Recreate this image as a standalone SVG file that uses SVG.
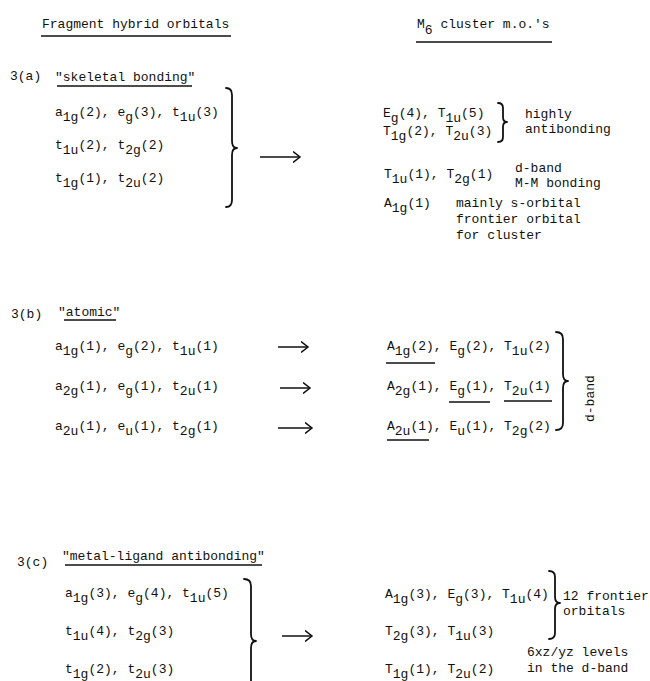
<svg xmlns="http://www.w3.org/2000/svg" width="650" height="681" viewBox="0 0 650 681">
<defs>
<style>
text{font-family:"Liberation Mono","DejaVu Sans Mono",monospace;font-size:13px;fill:#111;}
.ul{stroke:#111;stroke-width:1.4;fill:none;}
.br{stroke:#111;stroke-width:1.8;fill:none;stroke-linecap:round;stroke-linejoin:round;}
.ar{stroke:#111;stroke-width:1.5;fill:none;}
</style>
<marker id="ah" markerUnits="userSpaceOnUse" markerWidth="12" markerHeight="12" refX="7" refY="6" orient="auto">
<path d="M0,0.5 L7,6 L0,11.5" fill="none" stroke="#111" stroke-width="1.5"/>
</marker>
</defs>
<rect width="650" height="681" fill="#fff"/>

<g id="header-left">
<text x="42" y="28">Fragment hybrid orbitals</text>
<line class="ul" x1="41" y1="36" x2="231" y2="36"/>
</g>
<g id="header-right">
<text x="417" y="28">M<tspan dy="6">6</tspan><tspan dy="-6"> cluster m.o.'s</tspan></text>
<line class="ul" x1="416" y1="42" x2="552" y2="42"/>
</g>

<g id="sec-3a-title">
<text x="10" y="80">3(a)</text>
<text x="55" y="81">"skeletal bonding"</text>
<line class="ul" x1="57" y1="86" x2="192" y2="86"/>
</g>
<g id="a-left-1"><text x="55" y="116">a<tspan dy="5">1g</tspan><tspan dy="-5">(2), e</tspan><tspan dy="5">g</tspan><tspan dy="-5">(3), t</tspan><tspan dy="5">1u</tspan><tspan dy="-5">(3)</tspan></text></g>
<g id="a-left-2"><text x="55" y="149">t<tspan dy="5">1u</tspan><tspan dy="-5">(2), t</tspan><tspan dy="5">2g</tspan><tspan dy="-5">(2)</tspan></text></g>
<g id="a-left-3"><text x="55" y="182">t<tspan dy="5">1g</tspan><tspan dy="-5">(1), t</tspan><tspan dy="5">2u</tspan><tspan dy="-5">(2)</tspan></text></g>

<g id="a-right-1"><text x="383" y="117">E<tspan dy="5">g</tspan><tspan dy="-5">(4), T</tspan><tspan dy="5">1u</tspan><tspan dy="-5">(5)</tspan></text>
<text x="383" y="135">T<tspan dy="5">1g</tspan><tspan dy="-5">(2), T</tspan><tspan dy="5">2u</tspan><tspan dy="-5">(3)</tspan></text>
<text x="525" y="118">highly</text>
<text x="525" y="133">antibonding</text></g>
<g id="a-right-2"><text x="384" y="178">T<tspan dy="5">1u</tspan><tspan dy="-5">(1), T</tspan><tspan dy="5">2g</tspan><tspan dy="-5">(1)</tspan></text>
<text x="515" y="172">d-band</text>
<text x="515" y="187">M-M bonding</text></g>
<g id="a-right-3"><text x="384" y="207">A<tspan dy="5">1g</tspan><tspan dy="-5">(1)</tspan></text>
<text x="456" y="207">mainly s-orbital</text>
<text x="456" y="223">frontier orbital</text>
<text x="456" y="239">for cluster</text></g>

<g id="sec-3b-title">
<text x="11" y="318">3(b)</text>
<text x="58" y="316">"atomic"</text>
<line class="ul" x1="64" y1="320" x2="116" y2="320"/>
</g>
<g id="b-left-1"><text x="55" y="350">a<tspan dy="5">1g</tspan><tspan dy="-5">(1), e</tspan><tspan dy="5">g</tspan><tspan dy="-5">(2), t</tspan><tspan dy="5">1u</tspan><tspan dy="-5">(1)</tspan></text></g>
<g id="b-left-2"><text x="55" y="390">a<tspan dy="5">2g</tspan><tspan dy="-5">(1), e</tspan><tspan dy="5">g</tspan><tspan dy="-5">(1), t</tspan><tspan dy="5">2u</tspan><tspan dy="-5">(1)</tspan></text></g>
<g id="b-left-3"><text x="55" y="430">a<tspan dy="5">2u</tspan><tspan dy="-5">(1), e</tspan><tspan dy="5">u</tspan><tspan dy="-5">(1), t</tspan><tspan dy="5">2g</tspan><tspan dy="-5">(1)</tspan></text></g>

<g id="b-right-1"><text x="387" y="350">A<tspan dy="5">1g</tspan><tspan dy="-5">(2), E</tspan><tspan dy="5">g</tspan><tspan dy="-5">(2), T</tspan><tspan dy="5">1u</tspan><tspan dy="-5">(2)</tspan></text>
<line class="ul" x1="386" y1="363" x2="435" y2="363"/></g>
<g id="b-right-2"><text x="387" y="390">A<tspan dy="5">2g</tspan><tspan dy="-5">(1), E</tspan><tspan dy="5">g</tspan><tspan dy="-5">(1), T</tspan><tspan dy="5">2u</tspan><tspan dy="-5">(1)</tspan></text>
<line class="ul" x1="449" y1="402" x2="490" y2="402"/>
<line class="ul" x1="504" y1="401" x2="552" y2="401"/></g>
<g id="b-right-3"><text x="387" y="430">A<tspan dy="5">2u</tspan><tspan dy="-5">(1), E</tspan><tspan dy="5">u</tspan><tspan dy="-5">(1), T</tspan><tspan dy="5">2g</tspan><tspan dy="-5">(2)</tspan></text>
<line class="ul" x1="387" y1="440" x2="429" y2="440"/></g>
<g id="b-dband"><text transform="translate(594,422) rotate(-90)">d-band</text></g>

<g id="sec-3c-title">
<text x="17" y="566">3(c)</text>
<text x="62" y="560">"metal-ligand antibonding"</text>
<line class="ul" x1="65" y1="565" x2="262" y2="565"/>
</g>
<g id="c-left-1"><text x="65" y="597">a<tspan dy="5">1g</tspan><tspan dy="-5">(3), e</tspan><tspan dy="5">g</tspan><tspan dy="-5">(4), t</tspan><tspan dy="5">1u</tspan><tspan dy="-5">(5)</tspan></text></g>
<g id="c-left-2"><text x="65" y="635">t<tspan dy="5">1u</tspan><tspan dy="-5">(4), t</tspan><tspan dy="5">2g</tspan><tspan dy="-5">(3)</tspan></text></g>
<g id="c-left-3"><text x="65" y="673">t<tspan dy="5">1g</tspan><tspan dy="-5">(2), t</tspan><tspan dy="5">2u</tspan><tspan dy="-5">(3)</tspan></text></g>

<g id="c-right-1"><text x="385" y="598">A<tspan dy="5">1g</tspan><tspan dy="-5">(3), E</tspan><tspan dy="5">g</tspan><tspan dy="-5">(3), T</tspan><tspan dy="5">1u</tspan><tspan dy="-5">(4)</tspan></text>
<text x="563" y="600">12 frontier</text>
<text x="563" y="615">orbitals</text></g>
<g id="c-right-2"><text x="385" y="635">T<tspan dy="5">2g</tspan><tspan dy="-5">(3), T</tspan><tspan dy="5">1u</tspan><tspan dy="-5">(3)</tspan></text></g>
<g id="c-right-3"><text x="385" y="673">T<tspan dy="5">1g</tspan><tspan dy="-5">(1), T</tspan><tspan dy="5">2u</tspan><tspan dy="-5">(2)</tspan></text>
<text x="527" y="656">6xz/yz levels</text>
<text x="527" y="672">in the d-band</text></g>

<g id="connectors">
<path class="br" d="M226,88 Q232,88 232,95 L232,141 Q232,148 237,148 Q232,148 232,155 L232,200 Q232,207 226,207"/>
<path class="br" d="M498,103 Q503,103 503,108 L503,117 Q503,122 507,122 Q503,122 503,127 L503,137 Q503,142 498,142"/>
<path class="br" d="M556,332 Q563,332 563,339 L563,374 Q563,381 568,381 Q563,381 563,388 L563,423 Q563,430 556,430"/>
<path class="br" d="M244,579 Q251,579 251,586 L251,634 Q251,641 256,641 Q251,641 251,648 L251,696 Q251,703 244,703"/>
<path class="br" d="M549,571 Q555,571 555,577 L555,597 Q555,603 560,603 Q555,603 555,609 L555,633 Q555,639 549,639"/>
<line class="ar" x1="260" y1="157" x2="300" y2="157" marker-end="url(#ah)"/>
<line class="ar" x1="278" y1="347" x2="308" y2="347" marker-end="url(#ah)"/>
<line class="ar" x1="280" y1="388" x2="310" y2="388" marker-end="url(#ah)"/>
<line class="ar" x1="278" y1="428" x2="312" y2="428" marker-end="url(#ah)"/>
<line class="ar" x1="282" y1="636" x2="312" y2="636" marker-end="url(#ah)"/>
</g>
</svg>
